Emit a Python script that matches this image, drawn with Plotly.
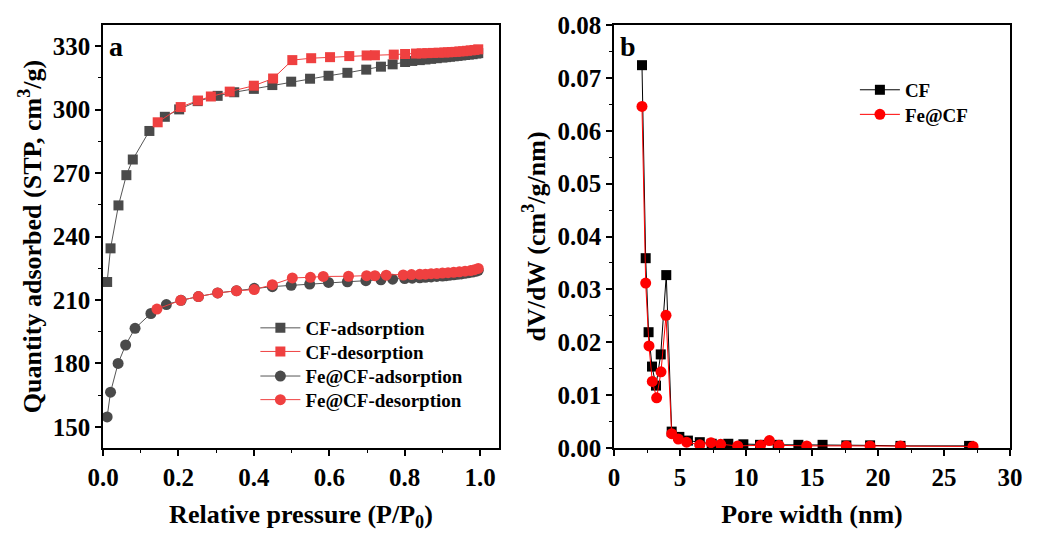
import plotly.graph_objects as go

# ---- Panel a: N2 isotherms ----
cf_ads_x = [0.011, 0.020, 0.041, 0.062, 0.079, 0.123, 0.164, 0.202, 0.251, 0.304, 0.348, 0.400, 0.449,
            0.499, 0.549, 0.598, 0.648, 0.698, 0.737, 0.768, 0.801, 0.82, 0.84, 0.855, 0.87, 0.885, 0.90,
            0.91, 0.92, 0.93, 0.94, 0.95, 0.96, 0.97, 0.98, 0.99, 0.995]
cf_ads_y = [218.5, 234.4, 254.7, 269.0, 276.4, 289.9, 296.6, 300.1, 304.0, 306.5, 308.2, 309.8, 311.6,
            313.2, 314.6, 316.0, 317.4, 318.9, 320.3, 321.4, 322.5, 323.0, 323.4, 323.7, 324.0, 324.3, 324.6,
            324.8, 325.0, 325.2, 325.4, 325.6, 325.8, 326.0, 326.2, 326.5, 326.7]

cf_des_x = [0.145, 0.206, 0.252, 0.286, 0.336, 0.400, 0.451, 0.502, 0.552, 0.602, 0.653, 0.699, 0.721,
            0.771, 0.801, 0.83, 0.845, 0.86, 0.875, 0.89, 0.905, 0.915, 0.925, 0.935, 0.945, 0.955, 0.965,
            0.975, 0.985, 0.995]
cf_des_y = [294.0, 301.2, 304.3, 306.2, 308.5, 311.3, 314.7, 323.4, 324.3, 324.8, 325.3, 325.6, 325.7,
            326.0, 326.3, 326.5, 326.6, 326.7, 326.8, 326.9, 327.0, 327.1, 327.2, 327.3, 327.5, 327.6, 327.8,
            328.0, 328.2, 328.5]

fe_ads_x = [0.011, 0.020, 0.040, 0.060, 0.085, 0.127, 0.168, 0.207, 0.253, 0.304, 0.354, 0.401, 0.449,
            0.499, 0.548, 0.598, 0.648, 0.697, 0.737, 0.768, 0.80, 0.82, 0.84, 0.855, 0.87, 0.885, 0.90,
            0.91, 0.92, 0.93, 0.94, 0.95, 0.96, 0.97, 0.98, 0.99, 0.995]
fe_ads_y = [154.7, 166.4, 180.0, 188.7, 196.6, 203.6, 207.8, 209.8, 211.6, 213.3, 214.4, 215.5, 216.3,
            216.9, 217.5, 218.3, 218.6, 219.1, 219.5, 219.8, 220.1, 220.3, 220.5, 220.7, 220.9, 221.1, 221.3,
            221.5, 221.7, 221.9, 222.1, 222.3, 222.6, 222.9, 223.2, 223.6, 224.0]

fe_des_x = [0.143, 0.206, 0.253, 0.304, 0.354, 0.401, 0.449, 0.502, 0.550, 0.584, 0.651, 0.699, 0.721,
            0.751, 0.796, 0.818, 0.84, 0.855, 0.87, 0.885, 0.90, 0.915, 0.93, 0.945, 0.96, 0.975, 0.985, 0.995]
fe_des_y = [205.7, 209.8, 211.6, 213.3, 214.3, 214.9, 217.2, 220.4, 220.7, 221.1, 221.2, 221.5, 221.5,
            221.7, 221.8, 222.0, 222.1, 222.2, 222.4, 222.5, 222.7, 222.9, 223.1, 223.3, 223.6, 223.9, 224.3, 224.9]

# ---- Panel b: pore size distribution ----
cf_pw = [2.12, 2.40, 2.62, 2.88, 3.18, 3.54, 3.96, 4.37, 4.95, 5.6, 6.5, 7.4, 8.66, 9.8, 11.06, 12.4,
         13.97, 15.8, 17.6, 19.4, 21.7, 26.9]
cf_dv = [0.0724, 0.0359, 0.0219, 0.0154, 0.0118, 0.0177, 0.0327, 0.0031, 0.0021, 0.0014, 0.0011, 0.0008,
         0.0008, 0.0007, 0.0006, 0.0006, 0.0006, 0.0006, 0.0005, 0.0005, 0.0004, 0.0004]

fe_pw = [2.12, 2.40, 2.65, 2.90, 3.23, 3.56, 3.94, 4.37, 4.87, 5.5, 6.5, 7.35, 8.08, 9.37, 11.1, 11.77,
         12.5, 14.6, 17.6, 19.4, 21.7, 27.2]
fe_dv = [0.0646, 0.0312, 0.0193, 0.0126, 0.0095, 0.0144, 0.0251, 0.0027, 0.0017, 0.0011, 0.0006, 0.0010,
         0.0007, 0.0004, 0.0005, 0.0014, 0.0005, 0.0004, 0.0004, 0.0004, 0.0004, 0.0003]

GRAY = "#4a4a4a"
RED_A = "#ef4040"
FONT = "Liberation Serif, Times New Roman, serif"

fig = go.Figure()
fig.add_trace(go.Scatter(x=cf_ads_x, y=cf_ads_y, name="CF-adsorption", mode="lines+markers",
                         line=dict(color="#555555", width=1),
                         marker=dict(symbol="square", size=10, color=GRAY), xaxis="x", yaxis="y",
                         legend="legend"))
fig.add_trace(go.Scatter(x=cf_des_x, y=cf_des_y, name="CF-desorption", mode="lines+markers",
                         line=dict(color=RED_A, width=1),
                         marker=dict(symbol="square", size=10, color=RED_A), xaxis="x", yaxis="y",
                         legend="legend2"))
fig.add_trace(go.Scatter(x=fe_ads_x, y=fe_ads_y, name="Fe@CF-adsorption", mode="lines+markers",
                         line=dict(color="#555555", width=1),
                         marker=dict(symbol="circle", size=11, color=GRAY), xaxis="x", yaxis="y",
                         legend="legend3"))
fig.add_trace(go.Scatter(x=fe_des_x, y=fe_des_y, name="Fe@CF-desorption", mode="lines+markers",
                         line=dict(color=RED_A, width=1),
                         marker=dict(symbol="circle", size=11, color=RED_A), xaxis="x", yaxis="y",
                         legend="legend4"))

fig.add_trace(go.Scatter(x=cf_pw, y=cf_dv, name="CF", mode="lines+markers",
                         line=dict(color="#000000", width=1),
                         marker=dict(symbol="square", size=10, color="#000000"), xaxis="x2", yaxis="y2",
                         legend="legend5"))
fig.add_trace(go.Scatter(x=fe_pw, y=fe_dv, name="Fe@CF", mode="lines+markers",
                         line=dict(color="#ff0000", width=1),
                         marker=dict(symbol="circle", size=11, color="#ff0000"), xaxis="x2", yaxis="y2",
                         legend="legend6"))

tickfont = dict(family=FONT, size=25, color="black", weight="bold")
titlefont = dict(family=FONT, size=26, color="black", weight="bold")
common = dict(showline=True, linecolor="black", linewidth=1.5, mirror=True, ticks="outside",
              ticklen=6, tickwidth=1.5, tickcolor="black", showgrid=False, zeroline=False,
              tickfont=tickfont)
minor_style = dict(ticks="outside", ticklen=3, tickwidth=1.2, tickcolor="black", showgrid=False)


def leg(x, y):
    return dict(x=x, y=y, xanchor="left", yanchor="middle", bgcolor="rgba(0,0,0,0)",
                font=dict(family=FONT, size=19, color="black", weight="bold"),
                itemwidth=40)


fig.update_layout(
    width=1037, height=536,
    margin=dict(l=103, r=27, t=20, b=86),
    paper_bgcolor="white", plot_bgcolor="white",
    font=dict(family=FONT, color="black"),
    showlegend=True,
    xaxis=dict(domain=[0, 0.4366], range=[0, 1.05], dtick=0.2, tickformat=".1f",
               minor=dict(dtick=0.1, **minor_style),
               title=dict(text="Relative pressure (P/P<sub>0</sub>)", font=titlefont, standoff=15),
               **common),
    yaxis=dict(domain=[0, 1], range=[140, 340], dtick=30, tick0=0,
               minor=dict(dtick=15, **minor_style),
               title=dict(text="Quantity adsorbed (STP, cm<sup>3</sup>/g)", font=titlefont, standoff=4),
               **common),
    xaxis2=dict(domain=[0.5634, 1], range=[0, 30], dtick=5, anchor="y2",
                minor=dict(dtick=2.5, **minor_style),
                title=dict(text="Pore width (nm)", font=titlefont, standoff=15),
                **common),
    yaxis2=dict(domain=[0, 1], range=[0, 0.08], dtick=0.01, tickformat=".2f", anchor="x2",
                minor=dict(dtick=0.005, **minor_style),
                title=dict(text="dV/dW (cm<sup>3</sup>/g/nm)", font=titlefont, standoff=4),
                **common),
    legend=leg(0.168, 0.2837),
    legend2=leg(0.168, 0.2279),
    legend3=leg(0.168, 0.1698),
    legend4=leg(0.168, 0.1140),
    legend5=leg(0.829, 0.8465),
    legend6=leg(0.829, 0.7884),
    annotations=[
        dict(text="a", x=0.01, y=0.99, xref="x domain", yref="y domain", xanchor="left", yanchor="top",
             showarrow=False, font=dict(family=FONT, size=28, color="black", weight="bold")),
        dict(text="b", x=0.01, y=0.99, xref="x2 domain", yref="y2 domain", xanchor="left", yanchor="top",
             showarrow=False, font=dict(family=FONT, size=28, color="black", weight="bold")),
    ],
)

fig.write_html("out.html")
